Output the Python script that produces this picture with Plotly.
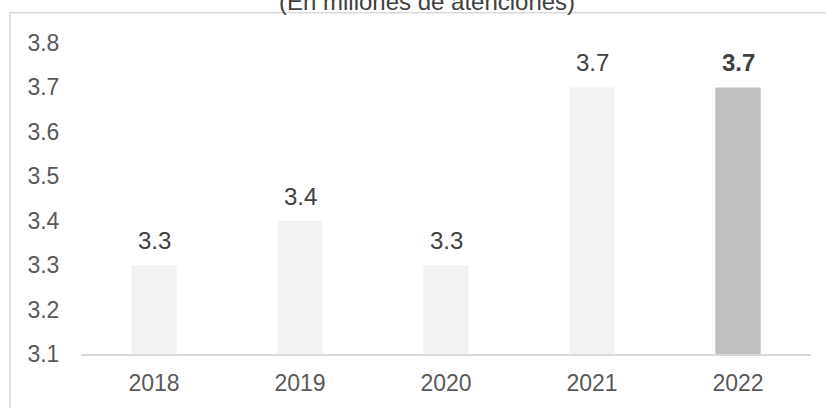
import plotly.graph_objects as go

# datos del grafico
anios = ['2018', '2019', '2020', '2021', '2022']
atenciones = [3.3, 3.4, 3.3, 3.7, 3.7]
colores = ['#f2f2f2', '#f2f2f2', '#f2f2f2', '#f2f2f2', '#bfbfbf']
ticks_y = [3.1, 3.2, 3.3, 3.4, 3.5, 3.6, 3.7, 3.8]

fuente = 'Liberation Sans, Arial, sans-serif'

fig = go.Figure()

fig.add_trace(go.Bar(
    x=anios,
    y=atenciones,
    marker=dict(color=colores, line=dict(width=0)),
    width=0.31,
    hoverinfo='skip'
))

# etiquetas de datos (la ultima en negrita)
for i, (a, v) in enumerate(zip(anios, atenciones)):
    txt = f'{v:.1f}'
    if i == len(anios) - 1:
        txt = f'<b>{txt}</b>'
    fig.add_annotation(
        x=i, y=v, text=txt, showarrow=False,
        yanchor='bottom', yshift=9,
        font=dict(family=fuente, size=24, color='#404040')
    )

# marco exterior
fig.add_shape(
    type='rect', xref='paper', yref='paper',
    x0=-0.0973, x1=1.05, y0=-0.2, y1=1.097,
    line=dict(color='#d9d9d9', width=1.5),
    fillcolor='rgba(0,0,0,0)', layer='below'
)

fig.update_layout(
    width=826, height=408,
    margin=dict(l=81, r=15, t=43, b=51),
    paper_bgcolor='white', plot_bgcolor='white',
    showlegend=False,
    title=dict(
        text='(En millones de atenciones)',
        x=0.517, xanchor='center',
        y=0.995, yanchor='middle',
        font=dict(family=fuente, size=24, color='#404040')
    )
)
fig.update_xaxes(
    type='category', range=[-0.5, 4.5],
    showline=True, linecolor='#d9d9d9', linewidth=1.5,
    showgrid=False, ticks='outside', ticklen=8, tickcolor='white',
    tickfont=dict(family=fuente, size=23, color='#595959')
)
fig.update_yaxes(
    range=[3.1, 3.8], tickvals=ticks_y, tickformat='.1f',
    showline=False, showgrid=False, zeroline=False,
    ticks='outside', ticklen=16, tickcolor='white',
    tickfont=dict(family=fuente, size=23, color='#595959')
)

# quitar el margen por defecto del body
fig.write_html("out.html", config={'displayModeBar': False},
               post_script="document.body.style.margin='0';")
